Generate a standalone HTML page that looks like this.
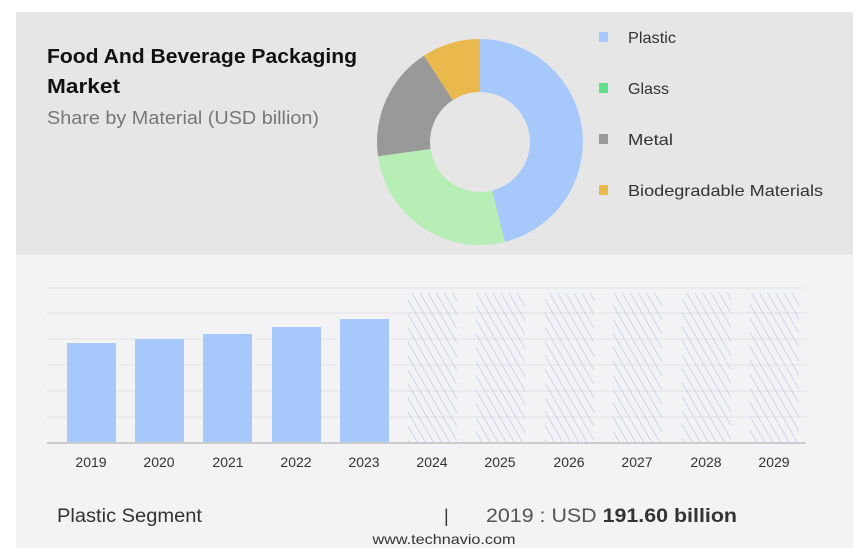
<!DOCTYPE html>
<html><head><style>
body{margin:0;width:864px;height:553px;background:#fff;font-family:"Liberation Sans",sans-serif;overflow:hidden}
</style></head><body>
<svg width="864" height="553" xmlns="http://www.w3.org/2000/svg" style="position:absolute;left:0;top:0">
<defs>
<pattern id="h" width="7" height="7" patternUnits="userSpaceOnUse" patternTransform="rotate(-30)">
<line x1="0" y1="0" x2="0" y2="7" stroke="#b0c4e8" stroke-width="1.2"/>
</pattern>
<clipPath id="c"><rect x="300" y="12" width="400" height="233"/></clipPath>
</defs>
<rect x="16" y="12" width="837" height="243" fill="#e6e6e6"/>
<rect x="16" y="255" width="837" height="293" fill="#f3f3f5"/>
<text x="47" y="63" font-size="20" font-weight="bold" fill="#111" textLength="310" lengthAdjust="spacingAndGlyphs">Food And Beverage Packaging</text>
<text x="47" y="93" font-size="20" font-weight="bold" fill="#111" textLength="73" lengthAdjust="spacingAndGlyphs">Market</text>
<text x="47" y="124" font-size="18" fill="#777" textLength="272" lengthAdjust="spacingAndGlyphs">Share by Material (USD billion)</text>
<g clip-path="url(#c)">
<g transform="translate(480,142)">
<path d="M0,-103 A103,103 0 0 1 24.9,99.9 L12.1,48.5 A50,50 0 0 0 0,-50Z" fill="#a6c8fb"/>
<path d="M24.9,99.9 A103,103 0 0 1 -102,14.3 L-49.5,7 A50,50 0 0 0 12.1,48.5Z" fill="#b6eeb6"/>
<path d="M-102,14.3 A103,103 0 0 1 -56,-86.4 L-27.2,-41.9 A50,50 0 0 0 -49.5,7Z" fill="#999"/>
<path d="M-56,-86.4 A103,103 0 0 1 0,-103 L0,-50 A50,50 0 0 0 -27.2,-41.9Z" fill="#e9b94e"/>
</g>
</g>
<rect x="599" y="32" width="9" height="10" fill="#a6c8fb"/>
<rect x="599" y="83" width="9" height="10" fill="#5fe08a"/>
<rect x="599" y="134" width="9" height="10" fill="#999"/>
<rect x="599" y="185" width="9" height="10" fill="#e9b94e"/>
<g font-size="16" fill="#333">
<text x="628" y="43" textLength="48" lengthAdjust="spacingAndGlyphs">Plastic</text><text x="628" y="94" textLength="41" lengthAdjust="spacingAndGlyphs">Glass</text>
<text x="628" y="145" textLength="45" lengthAdjust="spacingAndGlyphs">Metal</text><text x="628" y="196" textLength="195" lengthAdjust="spacingAndGlyphs">Biodegradable Materials</text>
</g>
<g stroke="#e3e3e6" stroke-width="1">
<line x1="47" x2="806" y1="288" y2="288"/><line x1="47" x2="806" y1="313" y2="313"/>
<line x1="47" x2="806" y1="339" y2="339"/><line x1="47" x2="806" y1="365" y2="365"/>
<line x1="47" x2="806" y1="391" y2="391"/><line x1="47" x2="806" y1="417" y2="417"/>
</g>
<g fill="#a6c8fb">
<rect x="67" y="343" width="49" height="100"/><rect x="135" y="339" width="49" height="104"/>
<rect x="203" y="334" width="49" height="109"/><rect x="272" y="327" width="49" height="116"/>
<rect x="340" y="319" width="49" height="124"/>
</g>
<g fill="url(#h)">
<rect x="408" y="293" width="49" height="150"/><rect x="476" y="293" width="49" height="150"/>
<rect x="545" y="293" width="49" height="150"/><rect x="613" y="293" width="49" height="150"/>
<rect x="682" y="293" width="49" height="150"/><rect x="750" y="293" width="49" height="150"/>
</g>
<line x1="47" x2="806" y1="443" y2="443" stroke="#ccc" stroke-width="2"/>
<g font-size="14" fill="#333" text-anchor="middle">
<text x="91" y="467">2019</text><text x="159" y="467">2020</text><text x="228" y="467">2021</text>
<text x="296" y="467">2022</text><text x="364" y="467">2023</text><text x="432" y="467">2024</text>
<text x="500" y="467">2025</text><text x="569" y="467">2026</text><text x="637" y="467">2027</text>
<text x="706" y="467">2028</text><text x="774" y="467">2029</text>
</g>
<text x="57" y="522" font-size="19" fill="#333" textLength="145" lengthAdjust="spacingAndGlyphs">Plastic Segment</text>
<text x="444" y="522" font-size="18" fill="#333">|</text>
<text x="486" y="522" font-size="19" fill="#555" textLength="251" lengthAdjust="spacingAndGlyphs">2019 : USD <tspan font-weight="bold" fill="#333">191.60 billion</tspan></text>
<text x="444" y="544" font-size="14" fill="#333" text-anchor="middle" textLength="143" lengthAdjust="spacingAndGlyphs">www.technavio.com</text>
</svg>
</body></html>
